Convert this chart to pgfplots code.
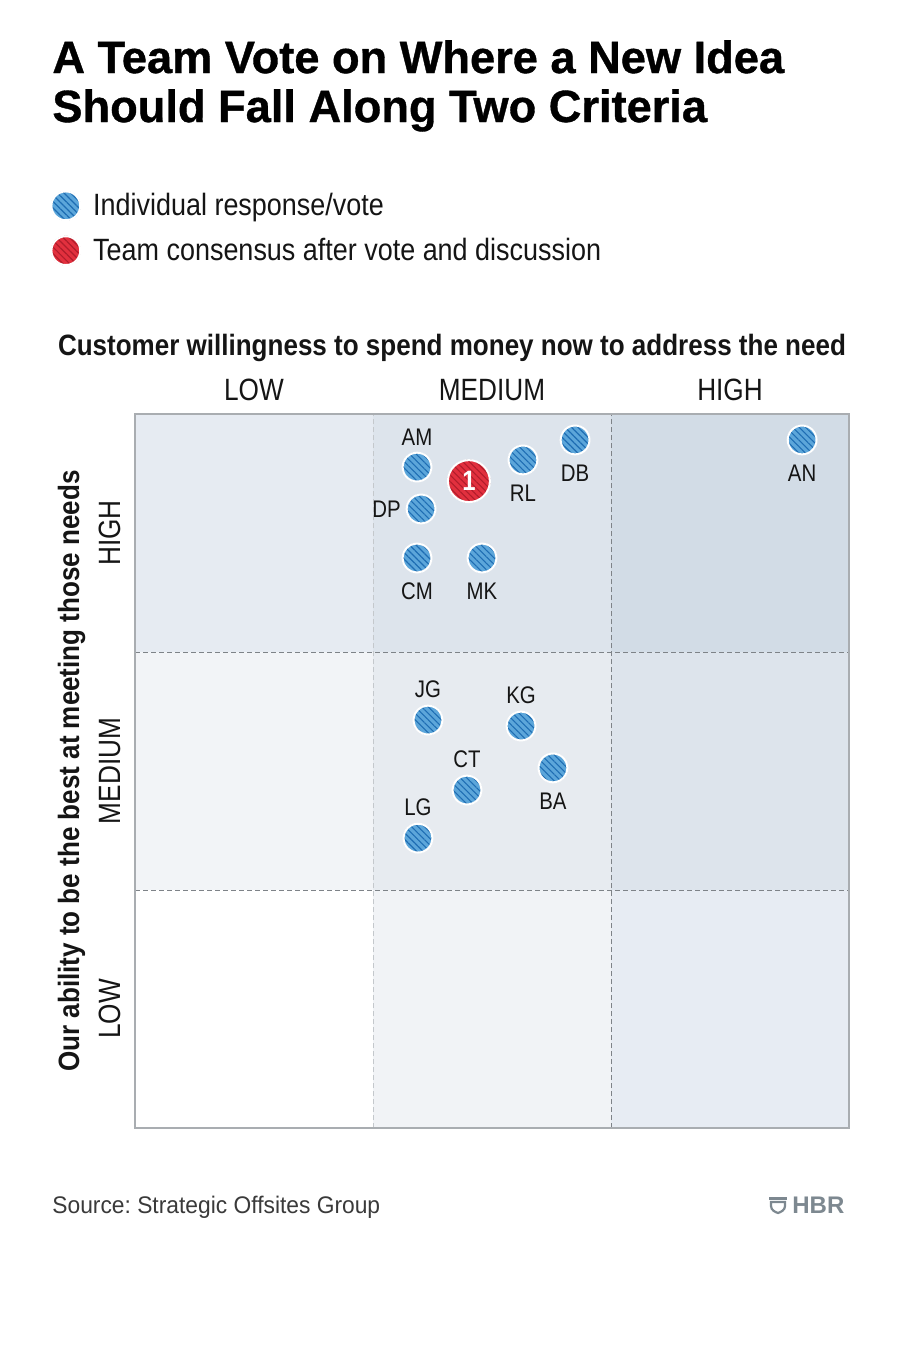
\documentclass[border=0pt]{standalone}
\usepackage{pgfplots}
\pgfplotsset{compat=1.18}
\usetikzlibrary{patterns.meta}
\usepackage{fontspec}
\frenchspacing
\setmainfont{Liberation Sans}
\newfontfamily\cond{Liberation Sans}[FakeStretch=0.85]
\newfontfamily\condl{Liberation Sans}[FakeStretch=0.875]
\newfontfamily\srcf{Liberation Sans}[FakeStretch=0.95]
\newfontfamily\condb{Liberation Sans}[FakeStretch=0.885]
\newfontfamily\titlef{Liberation Sans}[FakeBold=0.8]
\definecolor{txt}{HTML}{151515}
\definecolor{mblue}{HTML}{5CA6DA}
\definecolor{mbluestripe}{HTML}{1E6DB3}
\definecolor{mred}{HTML}{E2303E}
\definecolor{mredstripe}{HTML}{B01D2B}
\definecolor{axgray}{HTML}{A9ADB1}
\definecolor{dashlight}{HTML}{C4C8CC}
\definecolor{dashdark}{HTML}{7E8388}
\definecolor{srcgray}{HTML}{3A3A3A}
\definecolor{hbrgray}{HTML}{7D8890}
\definecolor{cA}{HTML}{E6EBF2}
\definecolor{cB}{HTML}{DDE4EC}
\definecolor{cC}{HTML}{D2DCE6}
\definecolor{cD}{HTML}{F2F4F7}
\definecolor{cE}{HTML}{E7EBF0}
\definecolor{cF}{HTML}{DDE4EC}
\definecolor{cH}{HTML}{F1F3F6}
\definecolor{cI}{HTML}{E7ECF3}
\pgfdeclareplotmark{bluedot}{%
  \fill[mblue] (0,0) circle[radius=7.2pt];
  \fill[pattern={Lines[angle=-45,distance=2.3pt,line width=0.55pt]}, pattern color=mbluestripe] (0,0) circle[radius=7.2pt];
  \draw[white, line width=1pt] (0,0) circle[radius=7.2pt];
}
\pgfdeclareplotmark{reddot}{%
  \fill[mred] (0,0) circle[radius=10.5pt];
  \fill[pattern={Lines[angle=-45,distance=2.3pt,line width=0.55pt]}, pattern color=mredstripe] (0,0) circle[radius=10.5pt];
  \draw[white, line width=1pt] (0,0) circle[radius=10.5pt];
}
\pgfdeclareplotmark{reddotsmall}{%
  \fill[mred] (0,0) circle[radius=7.2pt];
  \fill[pattern={Lines[angle=-45,distance=2.3pt,line width=0.55pt]}, pattern color=mredstripe] (0,0) circle[radius=7.2pt];
  \draw[white, line width=1pt] (0,0) circle[radius=7.2pt];
}
\newcommand{\ptfont}{\cond\fontsize{12}{14}\selectfont}
\begin{document}
\begin{tikzpicture}
\fill[white] (0,0) rectangle (450pt,-682.5pt);
\begin{axis}[
  at={(67.5pt,-564pt)}, anchor=south west,
  scale only axis, width=357pt, height=357pt,
  xmin=0, xmax=3, ymin=0, ymax=3,
  axis line style={draw=axgray, line width=0.7pt},
  axis on top, clip=false,
  xtick={0.5,1.5,2.5}, xticklabels={LOW,MEDIUM,HIGH},
  ytick={0.5,1.5,2.5}, yticklabels={LOW,MEDIUM,HIGH},
  xticklabel pos=upper,
  major tick length=0pt, tick style={draw=none},
  xticklabel style={font=\cond\fontsize{15.4}{16}\selectfont, text=txt, inner sep=0pt, anchor=base},
  yticklabel style={font=\cond\fontsize{15.4}{16}\selectfont, text=txt, inner sep=0pt, rotate=90, anchor=south},
  xticklabel shift=7pt, yticklabel shift=7pt,
  legend style={draw=none, fill=none, at={(-0.119,1.3137)}, anchor=north west,
    font=\condl\fontsize{15.4}{18}\selectfont, text=txt, row sep=7pt, column sep=6pt,
    inner sep=0pt, nodes={inner sep=0pt}},
  legend cell align=left,
]
\fill[cA] (axis cs:0,2) rectangle (axis cs:1,3);
\fill[cB] (axis cs:1,2) rectangle (axis cs:2,3);
\fill[cC] (axis cs:2,2) rectangle (axis cs:3,3);
\fill[cD] (axis cs:0,1) rectangle (axis cs:1,2);
\fill[cE] (axis cs:1,1) rectangle (axis cs:2,2);
\fill[cF] (axis cs:2,1) rectangle (axis cs:3,2);
\fill[cH] (axis cs:1,0) rectangle (axis cs:2,1);
\fill[cI] (axis cs:2,0) rectangle (axis cs:3,1);
\draw[dashlight, line width=0.5pt, dash pattern=on 2.5pt off 1.5pt] (axis cs:1,0) -- (axis cs:1,3);
\draw[dashdark, line width=0.5pt, dash pattern=on 2.5pt off 1.5pt] (axis cs:2,0) -- (axis cs:2,3);
\draw[dashdark, line width=0.5pt, dash pattern=on 2.5pt off 1.5pt] (axis cs:0,1) -- (axis cs:3,1);
\draw[dashdark, line width=0.5pt, dash pattern=on 2.5pt off 1.5pt] (axis cs:0,2) -- (axis cs:3,2);

\addplot[only marks, mark=bluedot, nodes near coords, point meta=explicit symbolic,
  nodes near coords style={anchor=south, inner sep=0pt, yshift=10.75pt, font=\ptfont, text=txt},
  legend image code/.code={\pgfuseplotmark{bluedot}}]
  table[meta=label] {
x y label
1.185 2.777 AM
1.231 1.714 JG
1.622 1.689 KG
1.395 1.420 CT
1.189 1.218 LG
};
\addlegendentry{Individual response/vote}
\addplot[only marks, mark=bluedot, nodes near coords, point meta=explicit symbolic, forget plot,
  nodes near coords style={anchor=north, inner sep=0pt, yshift=-12.25pt, font=\ptfont, text=txt}]
  table[meta=label] {
x y label
1.185 2.395 CM
1.458 2.395 MK
1.630 2.807 RL
1.849 2.891 DB
2.803 2.891 AN
1.756 1.513 BA
};
\addplot[only marks, mark=bluedot, nodes near coords, point meta=explicit symbolic, forget plot,
  nodes near coords style={anchor=east, inner sep=0pt, xshift=-10pt, font=\ptfont, text=txt}]
  table[meta=label] {
x y label
1.202 2.601 DP
};
\addplot[only marks, mark=reddot, nodes near coords, point meta=explicit symbolic,
  nodes near coords style={anchor=center, inner sep=0pt, font=\cond\bfseries\fontsize{14}{14}\selectfont, text=white},
  legend image code/.code={\pgfuseplotmark{reddotsmall}}]
  table[meta=label] {
x y label
1.403 2.718 1
};
\addlegendentry{Team consensus after vote and discussion}
\end{axis}
\begin{scope}[x=0.5pt, y=-0.5pt]
\node[anchor=base west, inner sep=0pt, font=\titlef\bfseries\fontsize{22.6}{24}\selectfont, text=black] at (52,73) {A Team Vote on Where a New Idea};
\node[anchor=base west, inner sep=0pt, font=\titlef\bfseries\fontsize{22.6}{24}\selectfont, text=black] at (52,122) {Should Fall Along Two Criteria};
\node[anchor=base, inner sep=0pt, font=\condb\bfseries\fontsize{14.7}{16}\selectfont, text=txt] at (452,355) {Customer willingness to spend money now to address the need};
\node[anchor=base, inner sep=0pt, rotate=90, font=\condb\bfseries\fontsize{14.7}{16}\selectfont, text=txt] at (79,771) {Our ability to be the best at meeting those needs};
\node[anchor=base west, inner sep=0pt, font=\srcf\fontsize{12}{14}\selectfont, text=srcgray] at (52,1213) {Source: Strategic Offsites Group};
\fill[hbrgray] (769,1197) rectangle (787,1200);
\draw[hbrgray, line width=1.1pt] (771,1202) -- (771,1206) .. controls (771,1210) and (775,1212) .. (778,1213) .. controls (781,1212) and (785,1210) .. (785,1206) -- (785,1202) -- cycle;
\node[anchor=base west, inner sep=0pt, font=\bfseries\fontsize{12}{12}\selectfont, text=hbrgray] at (792,1213) {HBR};
\end{scope}
\end{tikzpicture}
\end{document}
